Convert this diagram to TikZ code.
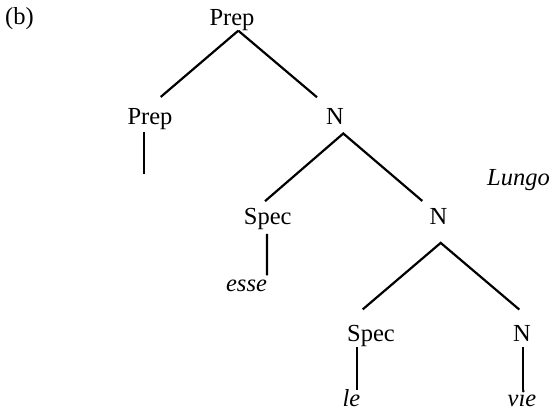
\documentclass[tikz,border=0pt]{standalone}
\usepackage{fontspec}
\setmainfont{Liberation Serif}
\begin{document}
\begin{tikzpicture}[x=1pt,y=-1pt,
  lbl/.style={inner sep=0pt,anchor=base,font=\fontsize{24.5}{29}\selectfont},
  word/.style={lbl,font=\fontsize{24.5}{29}\selectfont\itshape},
  edge/.style={line width=2.2pt,line cap=butt}]
\useasboundingbox[fill=white] (0,0) rectangle (552,411);
% labels
\node[lbl] (b) at (19.5,25) {(b)};
\node[lbl] (p0) at (232,26) {Prep};
\node[lbl] (p1) at (150,124.5) {Prep};
\node[lbl] (n1) at (335,125) {N};
\node[lbl] (s1) at (267.7,225) {Spec};
\node[lbl] (n2) at (438.5,225) {N};
\node[lbl] (s2) at (371,342) {Spec};
\node[lbl] (n3) at (522,342) {N};
\node[word] (esse) at (246.5,292) {esse};
\node[word] (le) at (351.5,406.7) {le};
\node[word] (vie) at (522,406.7) {vie};
\node[word,anchor=base west] (lungo) at (487,186) {Lungo};
\coordinate (p1end) at ([shift={(-5.7,44)}]p1.south);
% connectors
\draw[edge] ([shift={(6.3,-0.75)}]p0.south) -- ([shift={(10.7,-11.3)}]p1.north);
\draw[edge] ([shift={(6.3,-0.75)}]p0.south) -- ([shift={(-18,-11.5)}]n1.north);
\draw[edge] ([shift={(-5.7,1.75)}]p1.south) -- (p1end);
\draw[edge] ([shift={(-2.7,-7.4)}]s1.north) -- ([shift={(8.3,8.3)}]n1.south) -- ([shift={(-16.2,-7.8)}]n2.north);
\draw[edge] ([shift={(-0.8,3.5)}]s1.south) -- ([shift={(20.5,-5)}]esse.north);
\draw[edge] ([shift={(-8.3,-16.2)}]s2.north) -- ([shift={(2.2,17.7)}]n2.south) -- ([shift={(-2.7,-16.2)}]n3.north);
\draw[edge] ([shift={(-13.7,0)}]s2.south) -- ([shift={(5.8,0.3)}]le.north);
\draw[edge] ([shift={(1.3,5)}]n3.south) -- ([shift={(1.3,0)}]vie.north);
\end{tikzpicture}
\end{document}
